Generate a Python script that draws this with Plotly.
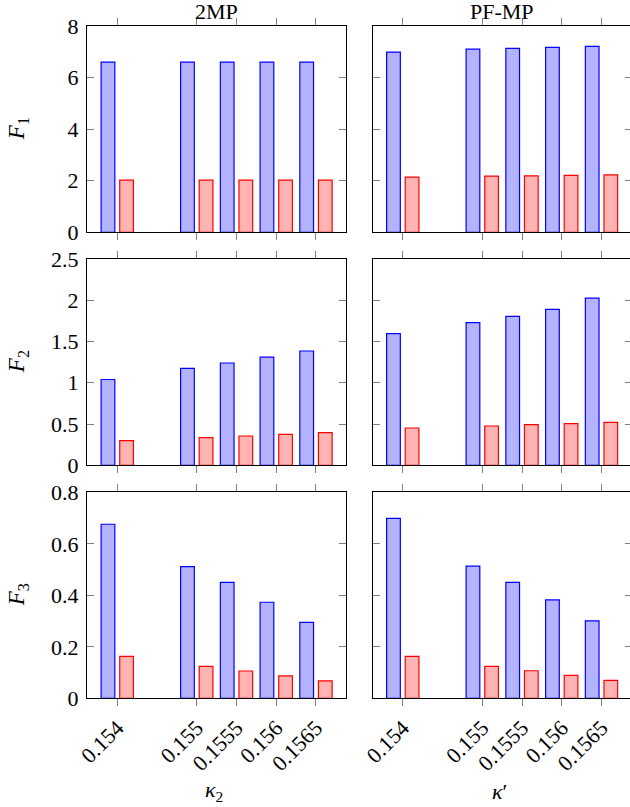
import plotly.graph_objects as go

# ---- data ----
kappa = [0.154, 0.155, 0.1555, 0.156, 0.1565]
tick_text = ["0.154", "0.155", "0.1555", "0.156", "0.1565"]

f1_2mp_blue = [6.60, 6.60, 6.60, 6.60, 6.60]
f1_2mp_red = [2.02, 2.02, 2.02, 2.02, 2.02]
f1_pf_blue = [6.99, 7.10, 7.13, 7.17, 7.21]
f1_pf_red = [2.14, 2.18, 2.19, 2.21, 2.23]

f2_2mp_blue = [1.04, 1.175, 1.24, 1.31, 1.385]
f2_2mp_red = [0.30, 0.335, 0.355, 0.375, 0.395]
f2_pf_blue = [1.595, 1.73, 1.805, 1.89, 2.025]
f2_pf_red = [0.452, 0.476, 0.492, 0.504, 0.521]

f3_2mp_blue = [0.676, 0.511, 0.450, 0.373, 0.295]
f3_2mp_red = [0.163, 0.124, 0.106, 0.087, 0.068]
f3_pf_blue = [0.699, 0.513, 0.450, 0.382, 0.301]
f3_pf_red = [0.163, 0.124, 0.107, 0.089, 0.070]

col_titles = ["2MP", "PF-MP"]
row_titles = ["<i>F</i><sub>1</sub>", "<i>F</i><sub>2</sub>", "<i>F</i><sub>3</sub>"]
x_titles = ["<i>κ</i><sub>2</sub>", "<i>κ</i>′"]

y_ranges = [[0, 8], [0, 2.5], [0, 0.8]]
y_dticks = [2, 0.5, 0.2]

panels = [
    [(f1_2mp_blue, f1_2mp_red), (f1_pf_blue, f1_pf_red)],
    [(f2_2mp_blue, f2_2mp_red), (f2_pf_blue, f2_pf_red)],
    [(f3_2mp_blue, f3_2mp_red), (f3_pf_blue, f3_pf_red)],
]

# ---- layout geometry (screen px; page body keeps an 8px left margin, no top margin) ----
W, H = 630, 807
OFFX, OFFY = 8, 0


def px_x(x):
    return (x - OFFX) / W


def px_y(y):
    return 1 - (y - OFFY) / H


col_px = [(87, 346), (372.5, 631.5)]
x_doms = [[px_x(a), px_x(b)] for (a, b) in col_px]
x_rng = [0.153619, 0.1568775]
row_px = [(26, 232.3), (259, 465.3), (492.3, 698.3)]
y_doms = [[px_y(b), px_y(t)] for (t, b) in row_px]

bar_w = 0.0001724
gap = 0.0000309

FONT = "Liberation Serif"
FS = 22
fig = go.Figure()
layout = dict(
    width=W, height=H, margin=dict(l=0, r=0, t=0, b=0, autoexpand=False),
    paper_bgcolor="white", plot_bgcolor="white",
    showlegend=False, barmode="overlay",
    font=dict(family=FONT, size=FS, color="black"),
)

for r in range(3):
    for c in range(2):
        idx = r * 2 + c + 1
        xs = "x" if idx == 1 else f"x{idx}"
        ys = "y" if idx == 1 else f"y{idx}"
        blue, red = panels[r][c]
        fig.add_trace(go.Bar(
            x=kappa, y=blue, xaxis=xs, yaxis=ys,
            offset=-gap - bar_w, width=bar_w,
            marker=dict(color="#b3b3ff", line=dict(color="#0000ff", width=1.2)),
        ))
        fig.add_trace(go.Bar(
            x=kappa, y=red, xaxis=xs, yaxis=ys,
            offset=gap, width=bar_w,
            marker=dict(color="#ffb3b3", line=dict(color="#ff0000", width=1.2)),
        ))
        xa = dict(
            domain=x_doms[c], range=x_rng, anchor=ys, automargin=False,
            tickvals=kappa, ticktext=tick_text,
            showticklabels=(r == 2), tickangle=-45,
            ticks="outside", ticklen=7, tickcolor="#808080", tickwidth=1,
            showline=True, linecolor="black", linewidth=1, mirror="ticks",
            showgrid=False, zeroline=False,
            tickfont=dict(family=FONT, size=FS),
        )
        ya = dict(
            domain=y_doms[r], range=y_ranges[r], anchor=xs, automargin=False,
            dtick=y_dticks[r], tick0=0,
            showticklabels=(c == 0),
            ticks="inside", ticklen=7, tickcolor="#808080", tickwidth=1,
            showline=True, linecolor="black", linewidth=1, mirror="ticks",
            showgrid=False, zeroline=False,
            tickfont=dict(family=FONT, size=FS),
            ticklabelstandoff=3,
        )
        layout["xaxis" if idx == 1 else f"xaxis{idx}"] = xa
        layout["yaxis" if idx == 1 else f"yaxis{idx}"] = ya

annotations = []
for c in range(2):
    cx = px_x((col_px[c][0] + col_px[c][1]) / 2)
    annotations.append(dict(
        text=col_titles[c], x=cx, y=px_y(11),
        xref="paper", yref="paper", showarrow=False,
        xanchor="center", yanchor="middle",
        font=dict(family=FONT, size=FS),
    ))
    annotations.append(dict(
        text=x_titles[c], x=cx - 3 / W, y=px_y(791),
        xref="paper", yref="paper", showarrow=False,
        xanchor="center", yanchor="middle",
        font=dict(family=FONT, size=FS),
    ))
for r in range(3):
    t, b = row_px[r]
    annotations.append(dict(
        text=row_titles[r], x=px_x(18), y=px_y((t + b) / 2),
        xref="paper", yref="paper", showarrow=False,
        xanchor="center", yanchor="middle", textangle=-90,
        font=dict(family=FONT, size=23),
    ))
layout["annotations"] = annotations

fig.update_layout(**layout)
fig.write_html("out.html", post_script="document.body.style.margin='0px 0px 0px 8px';")
